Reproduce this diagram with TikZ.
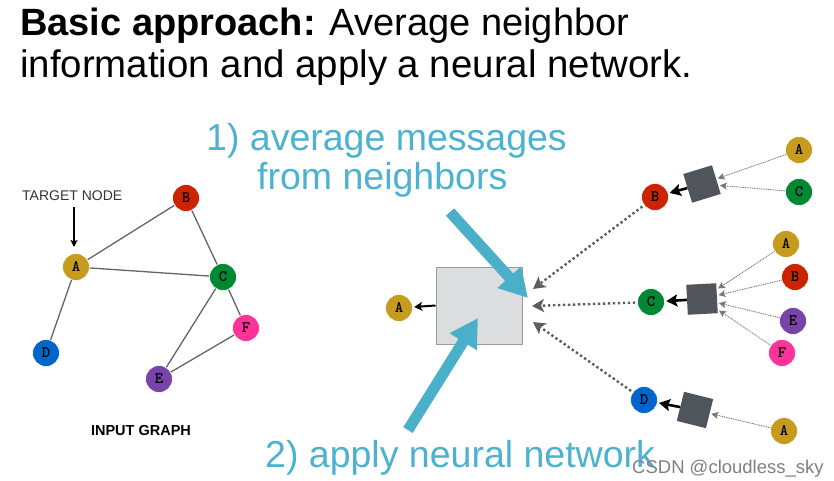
\documentclass[tikz,border=0pt]{standalone}
\usepackage{fontspec}
\setmainfont{Liberation Sans}
\usetikzlibrary{arrows.meta}

\definecolor{colA}{RGB}{198,155,30}
\definecolor{colB}{RGB}{204,36,0}
\definecolor{colC}{RGB}{0,136,51}
\definecolor{colD}{RGB}{0,102,204}
\definecolor{colE}{RGB}{119,68,170}
\definecolor{colF}{RGB}{255,51,153}
\definecolor{edgegray}{RGB}{100,100,100}
\definecolor{hint}{RGB}{77,178,208}
\definecolor{hintarrow}{RGB}{74,175,200}
\definecolor{boxfill}{RGB}{220,221,223}
\definecolor{boxline}{RGB}{154,155,158}
\definecolor{nnfill}{RGB}{80,85,91}
\definecolor{msggray}{RGB}{90,94,99}
\definecolor{thingray}{RGB}{118,120,124}

\tikzset{
  gnode/.style={circle, minimum size=27pt, inner sep=0pt, draw=white, line width=0.6pt,
    font=\ttfamily\bfseries\fontsize{16}{16}\selectfont},
  graphedge/.style={edgegray, line width=1.3pt},
  nnbox/.style={rectangle, minimum size=30pt, inner sep=0pt, fill=nnfill},
  aggbox/.style={rectangle, minimum width=86pt, minimum height=77pt, inner sep=0pt,
    fill=boxfill, draw=boxline, line width=1pt},
  msgarrow/.style={msggray, line width=2.4pt, dash pattern=on 2.4pt off 2.6pt,
    -{Stealth[length=12pt,width=13pt,inset=3pt]}, shorten <=2pt},
  inarrow/.style={thingray, line width=0.9pt, dash pattern=on 1pt off 0.8pt,
    -{Stealth[length=7pt,width=7pt,inset=1.5pt]}, shorten >=1.5pt},
  outarrow/.style={black, line width=2.6pt, -{Stealth[length=11pt,width=12pt,inset=2pt]},
    shorten >=1.5pt},
  hintarr/.style={hintarrow, line width=11pt, -{Triangle[length=28pt,width=30pt]}},
  hinttext/.style={hint, font=\fontsize{37.5}{37.5}\selectfont, inner sep=0pt}
}

\begin{document}
\begin{tikzpicture}[x=1pt,y=-1pt]
\useasboundingbox (0,0) rectangle (834,481);

% heading
\node[anchor=base west, inner sep=0pt, font=\fontsize{38}{38}\selectfont] (title1) at (20,36)
  {\textbf{Basic approach:} Average neighbor};
\node[anchor=base west, inner sep=0pt, font=\fontsize{38.4}{38}\selectfont] (title2) at (20,78)
  {information and apply a neural network.};

% input graph
\node[gnode, fill=colA] (gA) at (76,267) {A};
\node[gnode, fill=colB] (gB) at (186,198) {B};
\node[gnode, fill=colC] (gC) at (223,277) {C};
\node[gnode, fill=colD] (gD) at (46,353) {D};
\node[gnode, fill=colE] (gE) at (159,379) {E};
\node[gnode, fill=colF] (gF) at (246,328) {F};
\draw[graphedge] (gA) -- (gB);
\draw[graphedge] (gA) -- (gC);
\draw[graphedge] (gA) -- (gD);
\draw[graphedge] (gB) -- (gC);
\draw[graphedge] (gC) -- (gE);
\draw[graphedge] (gC) -- (gF);
\draw[graphedge] (gE) -- (gF);

\node[anchor=base west, inner sep=0pt, text=black!80, font=\fontsize{14}{14}\selectfont]
  (tgt) at (22,200) {TARGET NODE};
\coordinate (tgtend) at (74,247);
\draw[black, line width=1.2pt, -{Stealth[length=7pt,width=7pt,inset=1.5pt]}]
  (74,207) -- (tgtend);
\node[anchor=base, inner sep=0pt, font=\bfseries\fontsize{14.5}{14.5}\selectfont]
  (ig) at (141,435) {INPUT GRAPH};

% aggregation step
\node[aggbox] (agg) at (479,305.5) {};
\node[gnode, fill=colA] (tA) at (399,308) {A};
\draw[outarrow, line width=2pt, -{Stealth[length=8pt,width=9pt,inset=2pt]}] (agg.west) -- (tA);

\node[gnode, fill=colB] (nB) at (655,197) {B};
\node[gnode, fill=colC] (nC) at (651,302) {C};
\node[gnode, fill=colD] (nD) at (644,400) {D};
\coordinate (mB) at (533,289);
\coordinate (mC) at (532,306);
\coordinate (mD) at (533,322);
\draw[msgarrow] (nB) -- (mB);
\draw[msgarrow] (nC) -- (mC);
\draw[msgarrow] (nD) -- (mD);

% neighbourhood of B
\node[nnbox, rotate=17] (sqB) at (702,184) {};
\node[gnode, fill=colA] (bA) at (799,150) {A};
\node[gnode, fill=colC] (bC) at (799,192) {C};
\draw[inarrow] (bA) -- (sqB);
\draw[inarrow] (bC) -- (sqB);
\draw[outarrow] (sqB) -- (nB);

% neighbourhood of C
\node[nnbox, rotate=3] (sqC) at (702,299) {};
\node[gnode, fill=colA] (cA) at (786,244) {A};
\node[gnode, fill=colB] (cB) at (795,277) {B};
\node[gnode, fill=colE] (cE) at (793,321) {E};
\node[gnode, fill=colF] (cF) at (782,353) {F};
\draw[inarrow] (cA) -- (sqC);
\draw[inarrow] (cB) -- (sqC);
\draw[inarrow] (cE) -- (sqC);
\draw[inarrow] (cF) -- (sqC);
\draw[outarrow] (sqC) -- (nC);

% neighbourhood of D
\node[nnbox, rotate=-14] (sqD) at (695,410) {};
\node[gnode, fill=colA] (dA) at (784,431) {A};
\draw[inarrow] (dA) -- (sqD);
\draw[outarrow] (sqD) -- (nD);

% callouts
\node[hinttext, anchor=base west] (h1a) at (206,151) {1) average messages};
\node[hinttext, anchor=base west] (h1b) at (257,189) {from neighbors};
\node[hinttext, anchor=base west] (h2) at (265,467) {2) apply neural network};
\coordinate (s1) at (450,212);
\coordinate (e1) at (528,298);
\coordinate (s2) at (408,430);
\coordinate (e2) at (478,318);
\draw[hintarr] (s1) -- (e1);
\draw[hintarr] (s2) -- (e2);

% watermark
\node[anchor=base west, inner sep=0pt, text=black!50, font=\fontsize{18.5}{18.5}\selectfont]
  (wm) at (632,473) {CSDN @cloudless\_sky};
\end{tikzpicture}
\end{document}
